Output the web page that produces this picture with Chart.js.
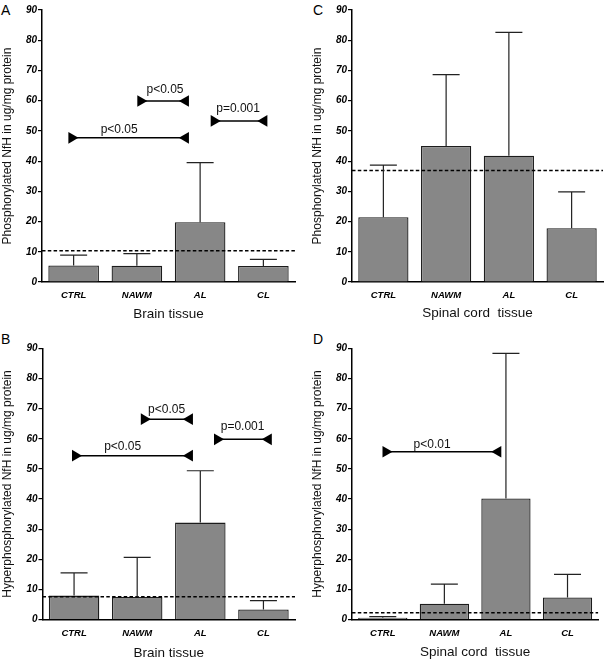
<!DOCTYPE html>
<html>
<head>
<meta charset="utf-8">
<script src="https://cdn.jsdelivr.net/npm/chart.js@4.4.0/dist/chart.umd.min.js"></script>
<style>
html,body{margin:0;padding:0;background:#fff;}
body{width:605px;height:664px;position:relative;overflow:hidden;font-family:"Liberation Sans",Arial,sans-serif;}
.pane{position:absolute;}
.letter{position:absolute;font-size:14px;line-height:14px;color:#000;font-family:"Liberation Sans",Arial,sans-serif;}
</style>
</head>
<body>
<div class="letter" style="left:1px;top:3px;">A</div>
<div class="letter" style="left:313px;top:3px;">C</div>
<div class="letter" style="left:1px;top:332px;">B</div>
<div class="letter" style="left:313px;top:332px;">D</div>
<script>
// ---------- data ----------
const categories = ['CTRL', 'NAWM', 'AL', 'CL'];
const yMin = 0, yMax = 90, yStep = 10;

// Panel A: Phosphorylated NfH, brain tissue
const meanA = [5.5, 5.4, 19.8, 5.3];
const errA  = [8.9, 9.4, 39.5, 7.5];
const refA  = 10.3;
const sigLabelA = ['p<0.05', 'p<0.05', 'p=0.001'];
const sigFromA  = [-0.03, 1.06, 2.22];
const sigToA    = [1.77, 1.77, 3.01];
const sigLevelA = [47.7, 59.9, 53.3];

// Panel B: Hyperphosphorylated NfH, brain tissue
const meanB = [8.0, 7.5, 32.2, 3.4];
const errB  = [15.5, 20.7, 49.4, 6.3];
const refB  = 7.6;
const sigLabelB = ['p<0.05', 'p<0.05', 'p=0.001'];
const sigFromB  = [0.02, 1.11, 2.27];
const sigToB    = [1.83, 1.83, 3.08];
const sigLevelB = [54.4, 66.5, 59.8];

// Panel C: Phosphorylated NfH, spinal cord tissue
const meanC = [21.4, 45.0, 41.8, 17.8];
const errC  = [38.7, 68.6, 82.6, 29.8];
const refC  = 36.9;
const sigLabelC = [];
const sigFromC  = [];
const sigToC    = [];
const sigLevelC = [];

// Panel D: Hyperphosphorylated NfH, spinal cord tissue
const meanD = [0.65, 5.3, 40.2, 7.4];
const errD  = [1.0, 11.8, 88.3, 15.0];
const refD  = 2.3;
const sigLabelD = ['p<0.01'];
const sigFromD  = [0.05];
const sigToD    = [1.87];
const sigLevelD = [55.7];

const yTitle1 = 'Phosphorylated NfH in ug/mg protein';
const yTitle2 = 'Hyperphosphorylated NfH in ug/mg protein';
const xTitleBrain = 'Brain tissue';
const xTitleSpinal = 'Spinal cord  tissue';

// ---------- layout (page pixels) ----------
const FONT = '"Liberation Sans", Arial, sans-serif';
const panels = [
  {canvas:[0,0,302,330],   area:[42,10,295,282],      mean:meanA, err:errA, ref:refA,
   sigLabel:sigLabelA, sigFrom:sigFromA, sigTo:sigToA, sigLevel:sigLevelA,
   textPos:[[0.72,49.3],[1.445,62.6],[2.60,56.3]],
   xTitle:xTitleBrain, yTitle:yTitle1, yPad:0.3, xPad:7.2},
  {canvas:[302,0,303,330], area:[352,10,603,282],     mean:meanC, err:errC, ref:refC,
   sigLabel:sigLabelC, sigFrom:sigFromC, sigTo:sigToC, sigLevel:sigLevelC,
   textPos:[],
   xTitle:xTitleSpinal, yTitle:yTitle1, yPad:8.5, xPad:8.6},
  {canvas:[0,330,302,334], area:[42.5,348.3,295,619.7], mean:meanB, err:errB, ref:refB,
   sigLabel:sigLabelB, sigFrom:sigFromB, sigTo:sigToB, sigLevel:sigLevelB,
   textPos:[[0.77,56.4],[1.465,68.7],[2.67,63.0]],
   xTitle:xTitleBrain, yTitle:yTitle2, yPad:0.3, xPad:2.6},
  {canvas:[302,330,303,334], area:[352,348.3,603,619.7], mean:meanD, err:errD, ref:refD,
   sigLabel:sigLabelD, sigFrom:sigFromD, sigTo:sigToD, sigLevel:sigLevelD,
   textPos:[[0.80,56.9]],
   xTitle:xTitleSpinal, yTitle:yTitle2, yPad:8.8, xPad:3.7}
];

// ---------- plugins ----------
const errPlugin = {
  id: 'errbars',
  afterDatasetsDraw(chart, args, opts) {
    const meta = chart.getDatasetMeta(0);
    const ys = chart.scales.y;
    const ctx = chart.ctx;
    ctx.save();
    ctx.strokeStyle = '#222';
    ctx.lineWidth = 1.2;
    meta.data.forEach((bar, i) => {
      const top = ys.getPixelForValue(opts.err[i]);
      ctx.beginPath();
      ctx.moveTo(bar.x, bar.y);
      ctx.lineTo(bar.x, top);
      ctx.moveTo(bar.x - opts.cap, top);
      ctx.lineTo(bar.x + opts.cap, top);
      ctx.stroke();
    });
    ctx.restore();
  }
};
const sigTextPlugin = {
  id: 'sigtext',
  afterDatasetsDraw(chart, args, opts) {
    const xs = chart.scales.x2, ys = chart.scales.y, ctx = chart.ctx;
    ctx.save();
    ctx.fillStyle = '#111';
    ctx.font = '12px ' + FONT;
    ctx.textAlign = 'center';
    ctx.textBaseline = 'alphabetic';
    opts.labels.forEach((t, i) => {
      const p = opts.pos[i];
      ctx.fillText(t, xs.getPixelForValue(p[0]), ys.getPixelForValue(p[1]));
    });
    ctx.restore();
  }
};

function makeChart(p) {
  const [cx, cy, cw, ch] = p.canvas;
  const [L, T, R, B] = p.area;
  const wrap = document.createElement('div');
  wrap.className = 'pane';
  wrap.style.left = cx + 'px';
  wrap.style.top = cy + 'px';
  wrap.style.width = cw + 'px';
  wrap.style.height = ch + 'px';
  const cv = document.createElement('canvas');
  cv.width = cw; cv.height = ch;
  cv.style.width = cw + 'px'; cv.style.height = ch + 'px';
  wrap.appendChild(cv);
  document.body.appendChild(wrap);

  const datasets = [{
    type: 'bar', data: p.mean, backgroundColor: '#878787', borderColor: '#1c1c1c',
    borderWidth: 1.3, barPercentage: 0.8, categoryPercentage: 1.0, grouped: false, order: 3,
    xAxisID: 'x', yAxisID: 'y'
  }, {
    type: 'line', data: [{x: -0.5, y: p.ref}, {x: 3.5, y: p.ref}], xAxisID: 'x2', yAxisID: 'y',
    borderColor: '#000', borderWidth: 1.5, borderDash: [3.5, 2.3], pointRadius: 0,
    order: 1, fill: false
  }];
  p.sigFrom.forEach((f, i) => {
    datasets.push({
      type: 'line', data: [{x: f, y: p.sigLevel[i]}, {x: p.sigTo[i], y: p.sigLevel[i]}],
      xAxisID: 'x2', yAxisID: 'y', borderColor: '#000', borderWidth: 1.5,
      pointStyle: 'triangle', pointRadius: 6.7, pointRotation: [90, 270],
      pointBackgroundColor: '#000', pointBorderColor: '#000', pointBorderWidth: 0,
      order: 1, clip: false, fill: false
    });
  });

  new Chart(cv, {
    type: 'bar',
    data: {labels: categories, datasets},
    options: {
      responsive: false, animation: false, devicePixelRatio: 1,
      layout: {padding: {left: 0, top: T - cy, right: cx + cw - R, bottom: 0}},
      plugins: {
        legend: {display: false}, tooltip: {enabled: false},
        errbars: {err: p.err, cap: 13.5},
        sigtext: {labels: p.sigLabel, pos: p.textPos}
      },
      scales: {
        x: {
          type: 'category', offset: true,
          grid: {display: false, drawTicks: false},
          border: {display: true, color: '#000', width: 1.5},
          ticks: {font: {family: FONT, size: 9.5, weight: 'bold', style: 'italic'}, color: '#000',
                  padding: 8, maxRotation: 0, autoSkip: false},
          title: {display: true, text: p.xTitle, font: {family: FONT, size: 13.5}, color: '#111',
                  padding: {top: 0, bottom: p.xPad}},
          afterFit(s) { s.height = cy + ch - B; }
        },
        x2: {type: 'linear', display: false, min: -0.5, max: 3.5, offset: false},
        y: {
          type: 'linear', min: yMin, max: yMax,
          ticks: {stepSize: yStep, font: {family: FONT, size: 10, weight: 'bold', style: 'italic'},
                  color: '#000', padding: 1},
          grid: {display: true, drawOnChartArea: false, drawTicks: true, tickLength: 4,
                 color: '#000', lineWidth: 1.2},
          border: {display: true, color: '#000', width: 1.5},
          title: {display: true, text: p.yTitle, font: {family: FONT, size: 12}, color: '#111',
                  padding: {top: p.yPad, bottom: 0}},
          afterFit(s) { s.width = L - cx; }
        }
      }
    },
    plugins: [errPlugin, sigTextPlugin]
  });
}
panels.forEach(makeChart);
</script>
</body>
</html>
